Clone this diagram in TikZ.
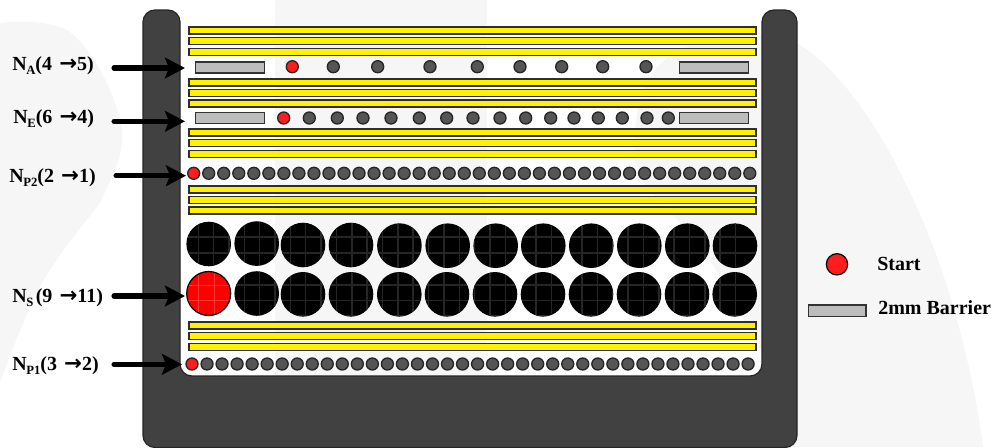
\documentclass[tikz,border=0pt]{standalone}
\usepackage{fontspec}
\setmainfont{Liberation Serif}
\newfontfamily\arrowfont{DejaVu Sans}[BoldFont={DejaVu Sans Bold}]
\usetikzlibrary{arrows.meta}
\definecolor{wm}{HTML}{F6F6F6}
\definecolor{framec}{HTML}{414141}
\definecolor{ballc}{HTML}{555555}
\definecolor{barc}{HTML}{BDBDBD}
\definecolor{redc}{HTML}{FF1C1C}
\newcommand{\lbl}[3]{\bfseries\fontsize{15pt}{17pt}\selectfont N\kern-.3pt\raisebox{-2.6pt}{\fontsize{9.5pt}{10pt}\selectfont #1}#2}
\newcommand{\arw}{{\kern1.6pt\arrowfont\bfseries\fontsize{16pt}{17pt}\selectfont →}}
\tikzset{
  x=.75pt,y=-.75pt,
  bar/.style={fill=yellow,draw=black!82,line width=1pt},
  barrier/.style={fill=barc,draw=black!80,line width=.8pt},
  ball/.style={circle,inner sep=0pt,minimum size=9pt,fill=ballc,draw=black!85,line width=1pt},
  startball/.style={ball,fill=redc},
  bigball/.style={fill=black},
  lab/.style={anchor=west,inner sep=0pt},
  leg/.style={anchor=west,inner sep=0pt,font=\bfseries\fontsize{15pt}{17pt}\selectfont},
  arr/.style={line width=3.8pt,line cap=round,-{Stealth[length=15pt,width=15.5pt,inset=3pt]}},
}
\begin{document}
\begin{tikzpicture}
\useasboundingbox (0,0) rectangle (997,447);
% faint background shapes
\fill[wm] (0,23) .. controls (25,20) and (50,22) .. (67,30) .. controls (90,45) and (115,90) .. (122,130) .. controls (124,150) and (118,165) .. (100,203) .. controls (75,235) and (50,265) .. (33,300) .. controls (20,330) and (10,355) .. (0,383) -- cycle;
\fill[wm] (275,0) rectangle (487,447);
\fill[wm] (797,43) .. controls (760,25) and (700,30) .. (665,60) .. controls (640,80) and (630,120) .. (637,170) .. controls (645,190) and (660,200) .. (673,215) -- (713,265) -- (790,400) -- (790,447) -- (983,447) .. controls (975,380) and (950,280) .. (920,215) .. controls (895,155) and (850,75) .. (797,43) -- cycle;
% frame
\draw[fill=framec,draw=black!85,line width=.9pt,rounded corners=9pt] (143,447.5) -- (143,10) -- (180,10) -- (180,376) -- (762,376) -- (762,10) -- (797,10) -- (797,447.5) -- cycle;
% yellow bars
\foreach \t in {27,37.5,48.5,79,89.3,100,129,139.5,150.3,186,196.8,207,322,332.5,343.2}
  \draw[bar] (189,\t) rectangle (756,\t+7);
% barriers
\foreach \t in {62,112.5} {
  \draw[barrier] (195.5,\t) rectangle (264.7,\t+11);
  \draw[barrier] (679.5,\t) rectangle (748.7,\t+11);
}
% row N_A
\foreach \x in {333.3,377.7,430,477.3,520,561.7,602.7,646}
  \node[ball] (a\x) at (\x,66.7) {};
\node[startball] (startA) at (292.3,66.7) {};
% row N_E
\foreach \x in {309.3,337.3,363,391,419.3,446.7,473,500,525.7,550.7,574,598.3,622.3,647,668.3}
  \node[ball] (e\x) at (\x,118) {};
\node[startball] (startE) at (283.7,118) {};
% rows N_P2 and N_P1
\foreach \i in {1,...,37} {
  \node[ball] (ptwo\i) at (193.7+15.03*\i,173.3) {};
  \node[ball] (pone\i) at (192+15.03*\i,364) {};
}
\node[startball] (startP2) at (193.7,173.3) {};
\node[startball] (startP1) at (192,364) {};
% large circles
\def\bigblack{208.7/244,256.7/243.6,303/245,351/245,399.4/245.6,447.7/245.7,495.7/245.7,543.3/245.7,591.3/245.7,639.3/245.7,687.3/245.7,735/245.7,256.7/293.5,303/294.3,351/294.3,399.3/294.3,447/294.3,495/294.3,543/294.3,591/294.3,639/294.3,687/294.3,734.7/294.3}
\foreach \x/\y in \bigblack \fill[bigball] (\x,\y) circle (22.3);
\begin{scope}
  \clip \foreach \x/\y in \bigblack {(\x,\y) circle (22)};
  \foreach \k in {0,...,35} \draw[black!85,line width=1.1pt] (198.3+15.35*\k,215) -- (198.3+15.35*\k,320);
  \foreach \y in {221.5,237,253,269,285,300.5,316} \draw[black!85,line width=1.1pt] (185,\y) -- (760,\y);
\end{scope}
\fill[red] (208.7,293.5) circle (22);
\begin{scope}
  \clip (208.7,293.5) circle (22);
  \foreach \x in {198.3,214.3} \draw[red!78!white,line width=1.1pt] (\x,265) -- (\x,320);
  \foreach \y in {285.5,300.5} \draw[red!78!white,line width=1.1pt] (185,\y) -- (235,\y);
\end{scope}
\draw[black,line width=.9pt] (208.7,293.5) circle (22);
% labels
\node[lab] (lblA) at (12,66) {\lbl{A}{(4 \arw{}5)}{}};
\node[lab] (lblE) at (13,119) {\lbl{E}{(6 \arw{}4)}{}};
\node[lab] (lblPtwo) at (9,178) {\lbl{P2}{(2 \arw{}1)}{}};
\node[lab] (lblS) at (12,298) {\lbl{S}{\kern1.8pt(9 \arw{}11)}{}};
\node[lab] (lblPone) at (12,366) {\lbl{P1}{(3 \arw{}2)}{}};
% arrows
\coordinate (fromA) at (114,68);   \coordinate (toA) at (185,68);
\coordinate (fromE) at (114,121.3);\coordinate (toE) at (185,121.3);
\coordinate (fromP2) at (116,175.7);\coordinate (toP2) at (186,175.7);
\coordinate (fromS) at (114,296);  \coordinate (toS) at (185,296);
\coordinate (fromP1) at (114,364.3);\coordinate (toP1) at (182,364.3);
\draw[arr] (fromA) -- (toA);
\draw[arr] (fromE) -- (toE);
\draw[arr] (fromP2) -- (toP2);
\draw[arr] (fromS) -- (toS);
\draw[arr] (fromP1) -- (toP1);
% legend
\node[circle,inner sep=0pt,minimum size=16pt,fill=redc,draw=black,line width=.9pt] (legendball) at (837,264.3) {};
\node[leg] (legendstart) at (877,264) {Start};
\draw[barrier] (808.3,305) rectangle (866,316.3);
\node[leg] (legendbarrier) at (878,308) {2mm Barrier};
\end{tikzpicture}
\end{document}
